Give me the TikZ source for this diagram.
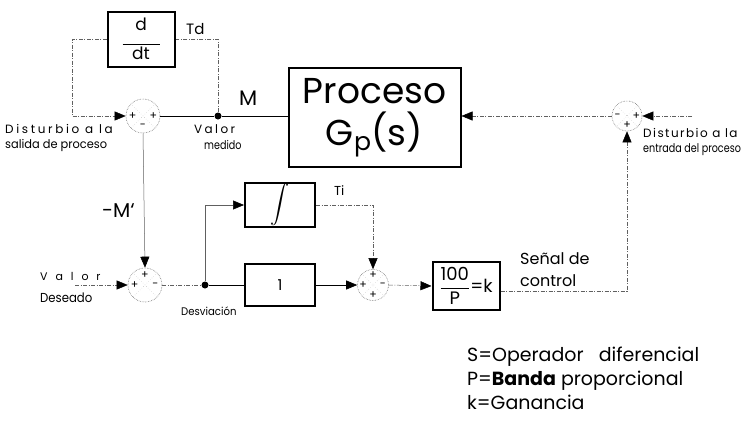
\documentclass[tikz,border=0pt]{standalone}
\usepackage{fontspec}
\setmainfont{Poppins}
\usetikzlibrary{arrows.meta}
\usetikzlibrary{positioning}
\tikzset{
    blockbox/.style={
        draw,
        line width=2pt,
        align=center,
        inner sep=0pt
    },
    sumnode/.style={
        circle,
        draw=gray!90!black,
        densely dotted,
        line width=0.6pt,
        minimum size=34pt,
        inner sep=0pt
    },
    crossline/.style={
        draw=gray!50,
        dotted,
        line width=0.4pt
    },
    sgn/.style={
        font=\fontsize{11}{11}\selectfont,
        inner sep=0pt
    },
    sigline/.style={
        line width=0.7pt
    },
    thinline/.style={
        line width=0.5pt,
        draw=gray!75!black
    },
    dashline/.style={
        line width=0.5pt,
        draw=gray!75!black,
        dash pattern=on 4pt off 1.5pt on 1pt off 1.5pt
    },
    arr/.style={
        -{Triangle[length=11pt,width=9pt,color=black]}
    },
    junction/.style={
        circle,
        fill,
        inner sep=0pt,
        minimum size=7pt
    },
    lbl/.style={
        inner sep=0pt,
        anchor=base west
    }
}

\begin{document}
\begin{tikzpicture}
[
    x=1pt,
    y=-1pt
]
\useasboundingbox (0,0) rectangle (743,439);

\node[blockbox, minimum width=67pt, minimum height=55pt, font=\fontsize{17}{18}\selectfont] (ddt) at (141,39) {d\\[-4pt]\rule{37pt}{0.6pt}\\[-3pt]dt};
\node[sumnode] (sumA) at (143,116) {};
\node[junction] (medido) at (218,116) {};
\node[blockbox, minimum width=172pt, minimum height=99pt, font=\fontsize{36}{42}\selectfont] (proc) at (374.5,117.5) {Proceso\\G\textsubscript{p}(s)};
\node[sumnode, minimum size=30pt] (sumB) at (627,116) {};
\coordinate (distR) at (692,116);
\coordinate (loopL) at (72,39);

\node[sumnode] (sumC) at (145,285) {};
\coordinate (valorIn) at (75,285);
\node[junction] (desv) at (205,285) {};
\node[blockbox, minimum width=70pt, minimum height=44pt] (integ) at (280,205) {\scalebox{1.9}{$\displaystyle\int$}};
\node[blockbox, minimum width=70pt, minimum height=42pt, font=\fontsize{15}{15}\selectfont] (one) at (280,285) {1};
\node[sumnode, minimum size=31pt] (sumD) at (373,285) {};
\node[blockbox, minimum width=67pt, minimum height=48pt, font=\fontsize{18}{18}\selectfont] (gain) at (466,286) {$\displaystyle\frac{\mbox{100}}{\mbox{P}}$\mbox{=k}};

\foreach \s in {sumA,sumB,sumC,sumD}
    \draw[crossline] (\s.45) -- (\s.225) (\s.135) -- (\s.315);

\node[sgn] at ([xshift=7pt]sumA.west) {+};
\node[sgn] at ([xshift=-7pt]sumA.east) {+};
\node[sgn] at ([yshift=7pt]sumA.south) {-};
\node[sgn] at ([xshift=6pt]sumB.west) {-};
\node[sgn] at ([xshift=-6pt]sumB.east) {+};
\node[sgn] at ([yshift=6pt]sumB.south) {+};
\node[sgn] at ([xshift=7pt]sumC.west) {+};
\node[sgn] at ([yshift=-7pt]sumC.north) {+};
\node[sgn] at ([xshift=-7pt]sumC.east) {-};
\node[sgn] at ([xshift=6pt]sumD.west) {+};
\node[sgn] at ([yshift=-6pt]sumD.north) {+};
\node[sgn] at ([xshift=-6pt]sumD.east) {-};
\node[sgn] at ([yshift=6pt]sumD.south) {+};

\draw[dashline, arr] (ddt.west) -- (loopL) |- (sumA.west);
\draw[dashline] (medido) |- (ddt.east);
\draw[sigline] (sumA.east) -- (medido) -- (medido -| proc.west);
\draw[dashline, arr] (sumB.west) -- (sumB.west -| proc.east);
\draw[dashline, arr] (distR) -- (sumB.east);
\draw[thinline, arr] (sumA.south) -- (sumC.north);
\draw[dashline, arr] (valorIn) -- (sumC.west);
\draw[dashline] (sumC.east) -- (desv);
\draw[sigline] (desv) -- (one.west);
\draw[thinline, arr] (desv) |- (integ.west);
\draw[dashline, arr] (integ.east) -| (sumD.north);
\draw[sigline, arr] (one.east) -- (sumD.west);
\draw[dashline, arr] (sumD.east) -- (gain.west);
\draw[dashline, arr] ([yshift=-5pt]gain.east) -| (sumB.south);

\node[lbl, font=\fontsize{15}{15}\selectfont] (tdLbl) at (186,34) {Td};
\node[lbl, font=\fontsize{21}{21}\selectfont] (mLbl) at (239,105) {M};
\node[lbl, font=\fontsize{12}{12}\selectfont\addfontfeatures{LetterSpace=22}] (distLa) at (5,133) {Disturbio a la};
\node[lbl, font=\fontsize{12}{12}\selectfont] (distLb) at (5,148) {\scalebox{0.95}[1]{salida de proceso}};
\node[lbl, font=\fontsize{12}{12}\selectfont\addfontfeatures{LetterSpace=20}] (valLa) at (194,133) {Valor};
\node[lbl, font=\fontsize{12}{12}\selectfont] (valLb) at (204,149) {\scalebox{0.8}[1]{medido}};
\node[lbl, font=\fontsize{12}{12}\selectfont\addfontfeatures{LetterSpace=12}] (distRa) at (643,137) {Disturbio a la};
\node[lbl, font=\fontsize{12}{12}\selectfont] (distRb) at (643,152) {\scalebox{0.8}[1]{entrada del proceso}};
\node[lbl, font=\fontsize{20}{20}\selectfont] (mPrime) at (102,217) {-M\symbol{96}};
\node[lbl, font=\fontsize{11}{11}\selectfont\addfontfeatures{LetterSpace=72}] (desA) at (40,280) {Valor};
\node[lbl, font=\fontsize{13}{13}\selectfont] (desB) at (40,302) {\scalebox{0.9}[1]{Deseado}};
\node[lbl, font=\fontsize{11}{11}\selectfont] (desvLbl) at (181,315) {\scalebox{0.92}[1]{Desviación}};
\node[lbl, font=\fontsize{13}{13}\selectfont] (tiLbl) at (334,195) {Ti};
\node[lbl, font=\fontsize{16}{16}\selectfont] (senA) at (520,264) {Señal de};
\node[lbl, font=\fontsize{16}{16}\selectfont] (senB) at (520,286) {control};
\node[lbl, font=\fontsize{19}{19}\selectfont] (noteS) at (467,361) {S=Operador\ \ \ diferencial};
\node[lbl, font=\fontsize{19}{19}\selectfont] (noteP) at (467,385) {P=\textbf{Banda} proporcional};
\node[lbl, font=\fontsize{19}{19}\selectfont] (noteK) at (467,409) {k=Ganancia};
\end{tikzpicture}
\end{document}
